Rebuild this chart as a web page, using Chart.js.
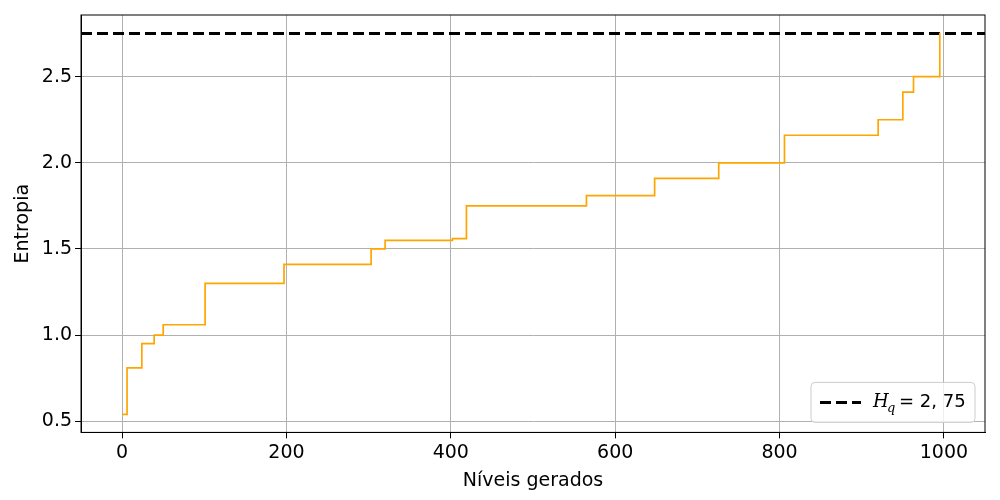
<!DOCTYPE html>
<html>
<head>
<meta charset="utf-8">
<script src="https://cdn.jsdelivr.net/npm/chart.js@4"></script>
<style>
  body { margin: 0; background: #fff; }
  #wrap { width: 1000px; height: 500px; }
</style>
</head>
<body>
<div id="wrap"><canvas id="c"></canvas></div>
<script>
// Levels where entropy steps up
const stepX = [0, 6, 24, 39, 50, 101, 197, 303, 320, 402, 419, 565, 648, 726, 806, 920, 950, 963, 995, 996];
const stepY = [0.54, 0.81, 0.95, 1.00, 1.06, 1.30, 1.41, 1.50, 1.55, 1.56, 1.75, 1.81, 1.91, 2.00, 2.16, 2.25, 2.41, 2.50, 2.75, 2.75];
const hq = 2.75;
const xTicks = [0, 200, 400, 600, 800, 1000];
const yTicks = [0.5, 1.0, 1.5, 2.0, 2.5];

const font = { family: 'DejaVu Sans', size: 19 };

// Frame plus matplotlib style legend in bottom right of plot area
const legendBox = {
    id: 'legendBox',
    afterDraw(chart) {
        const ctx = chart.ctx, a = chart.chartArea;
        ctx.save();
        ctx.strokeStyle = '#000';
        ctx.lineWidth = 1;
        ctx.strokeRect(a.left, a.top, a.right - a.left, a.bottom - a.top);
        const w = 164, h = 40;
        const x = a.right - 10 - w, y = a.bottom - 10 - h;
        ctx.fillStyle = 'rgba(255,255,255,0.8)';
        ctx.strokeStyle = '#ccc';
        ctx.beginPath();
        ctx.roundRect(x, y, w, h, 4);
        ctx.fill();
        ctx.stroke();
        ctx.strokeStyle = '#000';
        ctx.lineWidth = 3;
        ctx.setLineDash([11, 5]);
        ctx.beginPath();
        ctx.moveTo(x + 9, y + h / 2);
        ctx.lineTo(x + 50, y + h / 2);
        ctx.stroke();
        ctx.fillStyle = '#000';
        ctx.textBaseline = 'middle';
        ctx.font = 'italic 18px DejaVu Serif';
        ctx.fillText('H', x + 62, y + h / 2);
        ctx.font = 'italic 13px DejaVu Serif';
        ctx.fillText('q', x + 76, y + h / 2 + 6);
        ctx.font = '18px DejaVu Sans';
        ctx.fillText('= 2, 75', x + 88, y + h / 2);
        ctx.restore();
    }
};

new Chart(document.getElementById('c'), {
    type: 'line',
    data: {
        datasets: [{
            label: 'Entropia',
            data: stepX.map((x, i) => ({ x: x, y: stepY[i] })),
            borderColor: 'orange',
            borderWidth: 1.7,
            pointRadius: 0,
            stepped: 'before'
        }, {
            label: 'Hq',
            data: [{ x: -50, y: hq }, { x: 1050, y: hq }],
            borderColor: '#000',
            borderWidth: 3,
            borderDash: [11, 5],
            pointRadius: 0
        }]
    },
    plugins: [legendBox],
    options: {
        responsive: true,
        maintainAspectRatio: false,
        animation: false,
        layout: { padding: { top: 15, right: 15, left: 8, bottom: 6 } },
        plugins: { legend: { display: false }, tooltip: { enabled: false } },
        scales: {
            x: {
                type: 'linear', min: -50, max: 1050,
                afterBuildTicks: s => { s.ticks = xTicks.map(v => ({ value: v })); },
                ticks: { font: font, color: '#000', callback: v => String(v) },
                grid: { color: '#b0b0b0', tickColor: '#000', tickLength: 6 },
                border: { color: '#000' },
                title: { display: true, text: 'Níveis gerados', font: font, color: '#000', padding: 2 }
            },
            y: {
                min: 0.435, max: 2.858,
                afterBuildTicks: s => { s.ticks = yTicks.map(v => ({ value: v })); },
                ticks: { font: font, color: '#000', callback: v => v.toFixed(1) },
                grid: { color: '#b0b0b0', tickColor: '#000', tickLength: 6 },
                border: { color: '#000' },
                title: { display: true, text: 'Entropia', font: font, color: '#000' }
            }
        }
    }
});
</script>
</body>
</html>
